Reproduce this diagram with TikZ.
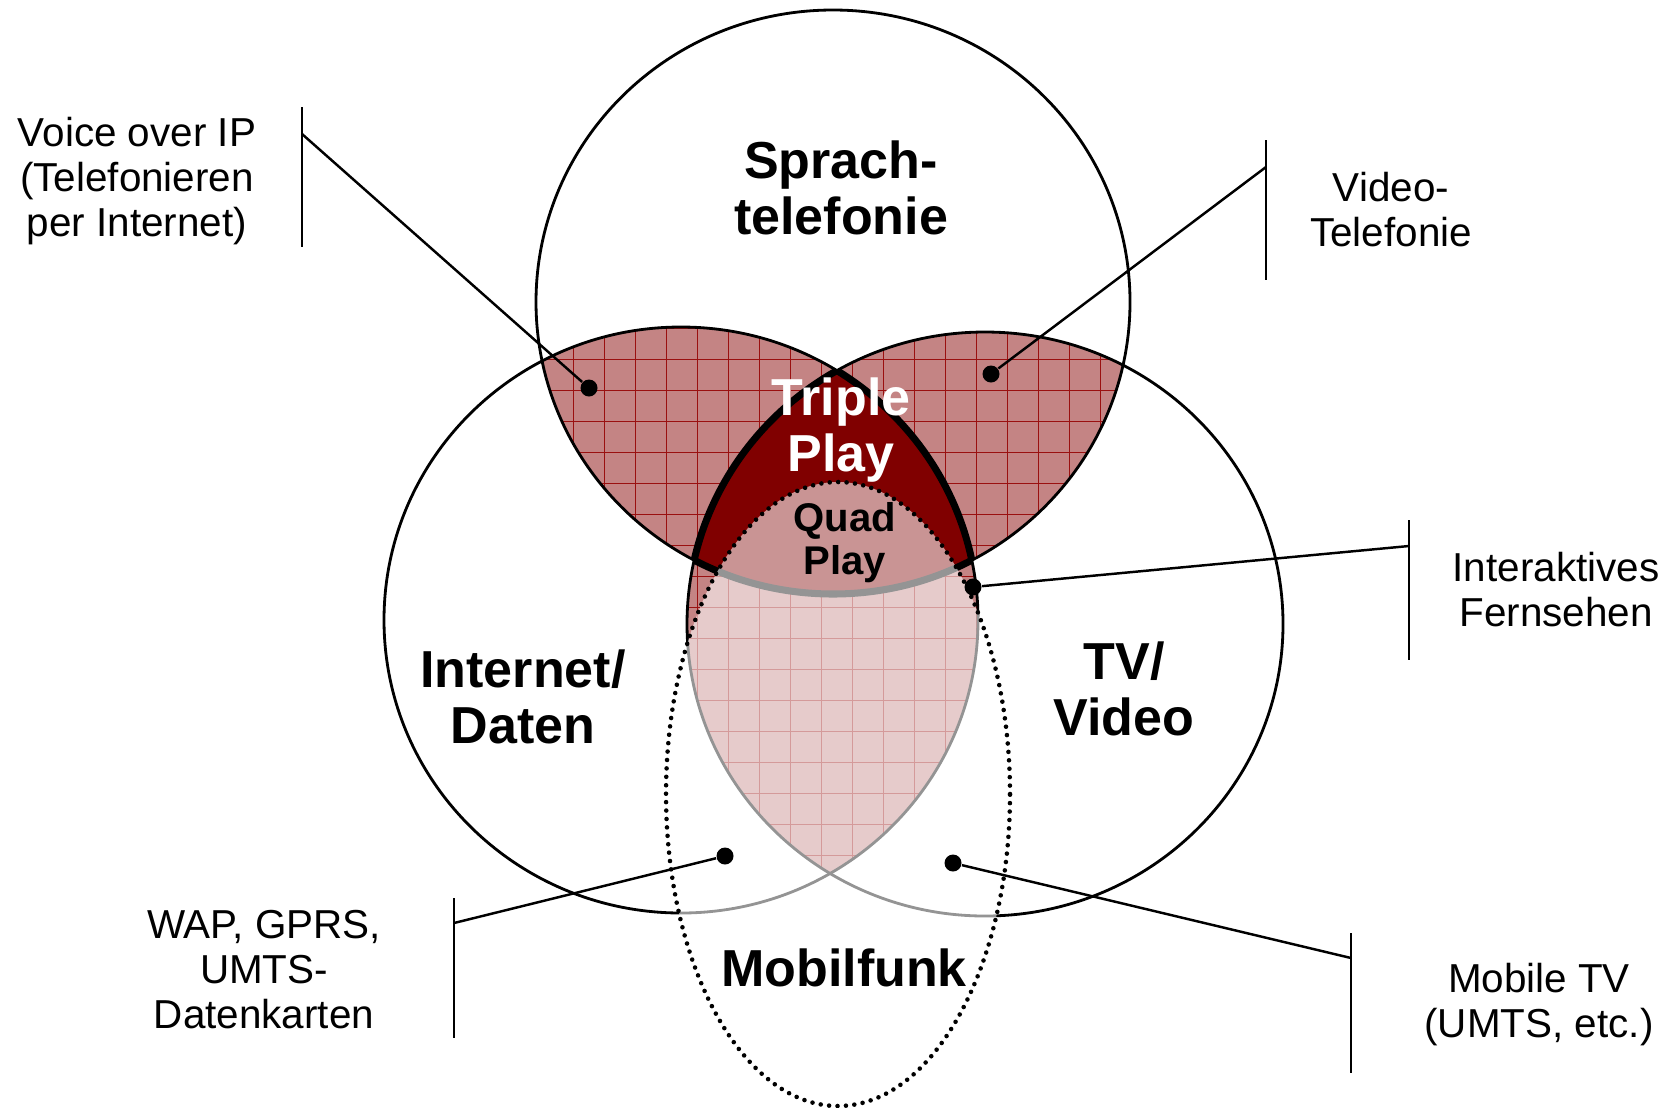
\documentclass[tikz,border=0pt]{standalone}
\usepackage{fontspec}
\setmainfont{Liberation Sans}
\usetikzlibrary{positioning}

\definecolor{rosy}{HTML}{C48484}
\definecolor{darkred}{HTML}{800000}
\definecolor{gridred}{HTML}{9A1010}

\newcommand\sprachpath{(833,302) ellipse[x radius=29.7mm, y radius=29.2mm]}
\newcommand\internetpath{(681,620) ellipse[x radius=29.7mm, y radius=29.3mm]}
\newcommand\tvpath{(985,624) ellipse[x radius=29.8mm, y radius=29.2mm]}
\newcommand\mobilpath{(838,794) ellipse[x radius=17.2mm, y radius=31.2mm]}
\newcommand\gridlines{%
  \foreach \gx in {0,...,24}
    \draw[gridline] (449+31*\gx,280) -- (449+31*\gx,940);
  \foreach \gy in {0,...,21}
    \draw[gridline] (380,297+31*\gy) -- (1300,297+31*\gy);
}

\begin{document}
\begin{tikzpicture}[
    x=0.1mm,y=-0.1mm,
    ring/.style={draw,line width=0.8pt},
    gridline/.style={draw=gridred,line width=0.25pt},
    bigtitle/.style={font=\fontsize{14.8}{16}\selectfont\bfseries,align=center,inner sep=0pt},
    quadtitle/.style={font=\fontsize{11.4}{12.2}\selectfont\bfseries,align=center,inner sep=0pt},
    note/.style={font=\fontsize{11.5}{12.8}\selectfont,align=center,inner sep=0pt},
    dot/.style={circle,fill,inner sep=0pt,minimum size=1.7mm},
    leader/.style={draw,line width=0.7pt}
    ]

    \useasboundingbox (0,0) rectangle (1671,1107);

    % pairwise overlaps
    \begin{scope}
      \clip \sprachpath;
      \fill[rosy] \internetpath;
      \fill[rosy] \tvpath;
    \end{scope}
    \begin{scope}
      \clip \internetpath;
      \fill[rosy] \tvpath;
    \end{scope}
    \begin{scope}
      \clip \sprachpath; \clip \internetpath;
      \gridlines
    \end{scope}
    \begin{scope}
      \clip \sprachpath; \clip \tvpath;
      \gridlines
    \end{scope}
    \begin{scope}
      \clip \internetpath; \clip \tvpath;
      \gridlines
    \end{scope}

    % triple play
    \begin{scope}
      \clip \sprachpath; \clip \internetpath;
      \fill[darkred] \tvpath;
    \end{scope}

    \draw[ring] \sprachpath;
    \draw[ring] \internetpath;
    \draw[ring] \tvpath;

    \begin{scope}
      \clip \internetpath; \clip \tvpath;
      \draw[line width=2pt] \sprachpath;
    \end{scope}
    \begin{scope}
      \clip \sprachpath; \clip \tvpath;
      \draw[line width=2pt] \internetpath;
    \end{scope}
    \begin{scope}
      \clip \sprachpath; \clip \internetpath;
      \draw[line width=2pt] \tvpath;
    \end{scope}

    % mobile
    \fill[white,fill opacity=0.58] \mobilpath;
    \draw[line width=1.3pt,line cap=round,dash pattern=on 0pt off 2.4pt] \mobilpath;

    \node (sprach) [bigtitle] at (841,188) {Sprach-\\telefonie};
    \node (internet) [bigtitle] at (523,697) {Internet/\\Daten};
    \node (tv) [bigtitle] at (1124,689) {TV/\\Video};
    \node (mobil) [bigtitle] at (844,968) {Mobilfunk};
    \node (triple) [bigtitle,text=white] at (841,430) {Triple\\Play};
    \node (quad) [quadtitle] at (845,543) {Quad\\Play};

    \node (voip) [note] at (137,181) {Voice over IP\\(Telefonieren\\per Internet)};
    \node (video) [note] at (1391,210) {Video-\\Telefonie};
    \node (itv) [note] at (1556,590) {Interaktives\\Fernsehen};
    \node (wap) [note] at (264,970) {WAP, GPRS,\\UMTS-\\Datenkarten};
    \node (mtv) [note] at (1539,1005) {Mobile TV\\(UMTS, etc.)};

    \node (voipdot) [dot] at (589,388) {};
    \node (videodot) [dot] at (991,374) {};
    \node (itvdot) [dot] at (973,587) {};
    \node (wapdot) [dot] at (725,856) {};
    \node (mtvdot) [dot] at (953,863) {};

    % brackets
    \draw[leader] (302,107) -- (302,247);
    \draw[leader] (1266,140) -- (1266,280);
    \draw[leader] (1409,520) -- (1409,660);
    \draw[leader] (454,898) -- (454,1038);
    \draw[leader] (1351,933) -- (1351,1073);

    \coordinate (voipbar) at (302,134);
    \coordinate (videobar) at (1266,167);
    \coordinate (itvbar) at (1409,546);
    \coordinate (wapbar) at (454,923);
    \coordinate (mtvbar) at (1351,958);

    \draw[leader] (voipbar) -- (voipdot);
    \draw[leader] (videobar) -- (videodot);
    \draw[leader] (itvbar) -- (itvdot);
    \draw[leader] (wapbar) -- (wapdot);
    \draw[leader] (mtvbar) -- (mtvdot);

  \end{tikzpicture}
\end{document}
